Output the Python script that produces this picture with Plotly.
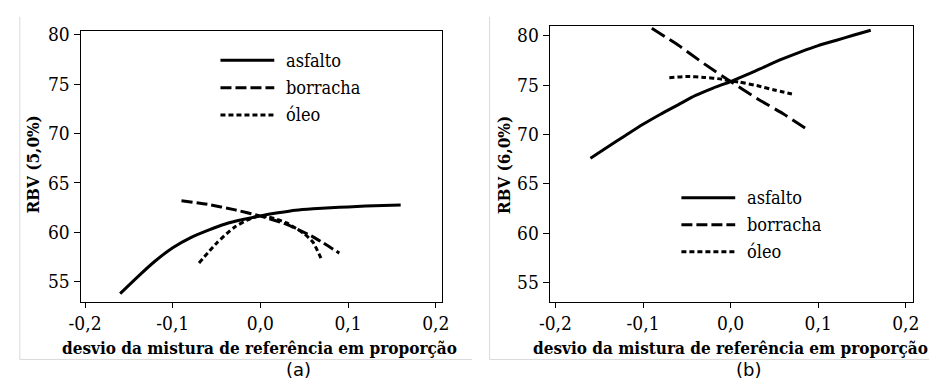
import plotly.graph_objects as go

W, H = 937, 383

# ---- data -------------------------------------------------------------
x_asfalto = [-0.16, -0.14, -0.12, -0.10, -0.08, -0.06, -0.04, -0.02, 0.0,
             0.02, 0.04, 0.06, 0.08, 0.10, 0.12, 0.14, 0.16]
x_borracha_a = [-0.09, -0.06, -0.03, 0.0, 0.03, 0.06, 0.09]
x_borracha_b = [-0.09, -0.06, -0.03, 0.0, 0.03, 0.06, 0.085]
x_oleo = [-0.07, -0.05, -0.03, -0.01, 0.0, 0.01, 0.03, 0.05, 0.06, 0.07]

# RBV (5,0%)
asfalto_a = [53.8, 55.5, 57.1, 58.45, 59.45, 60.2, 60.85, 61.3, 61.67,
             61.98, 62.25, 62.4, 62.5, 62.57, 62.67, 62.73, 62.78]
borracha_a = [63.2, 62.83, 62.3, 61.65, 60.8, 59.55, 57.9]
oleo_a = [56.9, 58.9, 60.5, 61.45, 61.65, 61.55, 60.95, 59.85, 59.0, 57.2]

# RBV (6,0%)
asfalto_b = [67.6, 68.75, 69.9, 71.03, 72.05, 73.0, 73.95, 74.7, 75.36,
             76.1, 76.9, 77.67, 78.37, 79.0, 79.52, 80.05, 80.55]
borracha_b = [80.76, 79.05, 77.15, 75.36, 73.65, 72.1, 70.65]
oleo_b = [75.75, 75.87, 75.78, 75.6, 75.42, 75.3, 74.95, 74.5, 74.3, 74.1]

x_ticks = [-0.2, -0.1, 0.0, 0.1, 0.2]
x_tick_labels = ["-0,2", "-0,1", "0,0", "0,1", "0,2"]
y_ticks = [55, 60, 65, 70, 75, 80]

series_names = ["asfalto", "borracha", "óleo"]

# ---- styling ----------------------------------------------------------
SERIF = "DejaVu Serif Condensed"
SANS = "DejaVu Sans"
dash_a = ["solid", "11px,4px", "5px,3px"]
dash_b = ["solid", "15px,6px", "5px,3px"]
LW = 3


def px_x(p):
    return p / W


def px_y(p):
    return 1 - p / H


fig = go.Figure()

panels = [
    dict(xa="x", ya="y",
         series=[(x_asfalto, asfalto_a), (x_borracha_a, borracha_a), (x_oleo, oleo_a)],
         dashes=dash_a),
    dict(xa="x2", ya="y2",
         series=[(x_asfalto, asfalto_b), (x_borracha_b, borracha_b), (x_oleo, oleo_b)],
         dashes=dash_b),
]

for pnl in panels:
    for name, (xs, ys), dsh in zip(series_names, pnl["series"], pnl["dashes"]):
        fig.add_trace(go.Scatter(
            x=xs, y=ys, mode="lines", name=name, showlegend=False,
            line=dict(color="black", width=LW, dash=dsh, shape="spline", smoothing=0.6),
            xaxis=pnl["xa"], yaxis=pnl["ya"],
        ))

axis_common = dict(
    showline=True, linecolor="black", linewidth=1, mirror=True,
    ticks="outside", tickcolor="black", tickwidth=1,
    showgrid=False, zeroline=False,
    tickfont=dict(family=SERIF, size=19, color="black"),
)

fig.update_layout(
    width=W, height=H,
    margin=dict(l=0, r=0, t=0, b=0),
    paper_bgcolor="white", plot_bgcolor="white",
    showlegend=False,
    font=dict(family=SERIF, color="black"),
    xaxis=dict(domain=[px_x(70), px_x(439)], range=[-0.2052, 0.2067],
               tickvals=x_ticks, ticktext=x_tick_labels, ticklen=5,
               anchor="y", **axis_common),
    yaxis=dict(domain=[px_y(300), px_y(24)], range=[53.0, 80.43],
               tickvals=y_ticks, ticklen=6, anchor="x", **axis_common),
    xaxis2=dict(domain=[px_x(549.3), px_x(920.7)], range=[-0.2067, 0.2083],
                tickvals=x_ticks, ticktext=x_tick_labels, ticklen=5,
                anchor="y2", **axis_common),
    yaxis2=dict(domain=[px_y(300), px_y(19)], range=[53.08, 81.02],
                tickvals=y_ticks, ticklen=6, anchor="x2", **axis_common),
)

annotations = []
shapes = []

# axis titles and panel captions
for cx, ytitle, ycx, cap, capx in [
    (253, "RBV (5,0%)", 22, "(a)", 293),
    (734, "RBV (6,0%)", 503, "(b)", 753),
]:
    annotations.append(dict(
        x=px_x(cx), y=px_y(347), xref="paper", yref="paper",
        text="<b>desvio da mistura de referência em proporção</b>",
        showarrow=False, xanchor="center", yanchor="middle",
        font=dict(family=SERIF, size=17, color="black")))
    annotations.append(dict(
        x=px_x(ycx), y=px_y(161), xref="paper", yref="paper",
        text=f"<b>{ytitle}</b>", textangle=-90,
        showarrow=False, xanchor="center", yanchor="middle",
        font=dict(family=SERIF, size=17, color="black")))
    annotations.append(dict(
        x=px_x(capx), y=px_y(369), xref="paper", yref="paper",
        text=cap, showarrow=False, xanchor="center", yanchor="middle",
        font=dict(family=SANS, size=18, color="black")))

# in-panel legends
for (x0, x1, tx, rows, dashes) in [
    (213, 268, 278, [54.3, 82.3, 110.0], dash_a),
    (684, 739, 749, [194.3, 221.7, 249.3], ["solid", "11px,4px", "5px,3px"]),
]:
    for name, ry, dsh in zip(series_names, rows, dashes):
        shapes.append(dict(
            type="line", xref="paper", yref="paper",
            x0=px_x(x0), x1=px_x(x1), y0=px_y(ry), y1=px_y(ry),
            line=dict(color="black", width=LW, dash=dsh)))
        annotations.append(dict(
            x=px_x(tx), y=px_y(ry), xref="paper", yref="paper",
            text=name, showarrow=False, xanchor="left", yanchor="middle",
            font=dict(family=SERIF, size=18, color="black")))

# faint frame lines around each figure panel
for (lx, rx, by) in [(8, 470, 359), (488, 937, 359)]:
    shapes.append(dict(type="line", xref="paper", yref="paper",
                       x0=px_x(lx), x1=px_x(lx), y0=px_y(10), y1=px_y(by),
                       line=dict(color="#d9d9d9", width=1)))
    shapes.append(dict(type="line", xref="paper", yref="paper",
                       x0=px_x(lx), x1=px_x(rx), y0=px_y(by), y1=px_y(by),
                       line=dict(color="#d9d9d9", width=1)))

fig.update_layout(annotations=annotations, shapes=shapes)

fig.write_html("out.html")
